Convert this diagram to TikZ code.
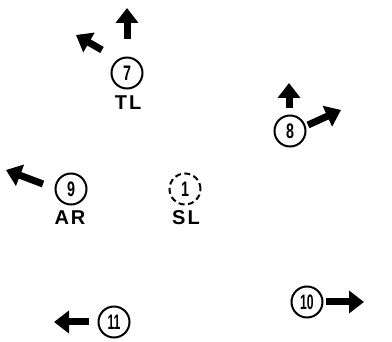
\documentclass[tikz,border=0pt]{standalone}
\usepackage{fontspec}
\setmainfont{Liberation Sans}
\usetikzlibrary{arrows.meta}
\begin{document}
\begin{tikzpicture}[x=1pt,y=-1pt,
  num/.style={circle,draw,line width=2pt,minimum size=31pt,inner sep=0pt,font=\bfseries\fontsize{21}{21}\selectfont},
  dnum/.style={num,dash pattern=on 6pt off 3.5pt},
  lab/.style={font=\bfseries\fontsize{20}{20}\selectfont},
  arr/.style={line width=7pt,-{Triangle[length=15pt,width=22pt]}}]
\useasboundingbox (0,0) rectangle (392,342);
\node[num] (n7) at (127,73) {\scalebox{0.68}[1]{7}};
\node[lab] (tl) at (128,103) {T\kern2ptL};
\node[num] (n8) at (290,131) {\scalebox{0.68}[1]{8}};
\node[num] (n9) at (71,189) {\scalebox{0.68}[1]{9}};
\node[lab] (ar) at (70,218) {A\kern2ptR};
\node[dnum] (n1) at (185,189) {\scalebox{0.68}[1]{1}};
\node[lab] (sl) at (186,218) {S\kern2ptL};
\node[num] (n11) at (114,322) {\scalebox{0.58}[1]{11}};
\node[num] (n10) at (307,302) {\scalebox{0.58}[1]{10}};
\coordinate (a7u0) at (127,39); \coordinate (a7u1) at (127,8);
\coordinate (a7l0) at (102,50); \coordinate (a7l1) at (76,35);
\coordinate (a8u0) at (289,108); \coordinate (a8u1) at (289,83);
\coordinate (a8r0) at (308,125); \coordinate (a8r1) at (341,110);
\coordinate (a9l0) at (43,184); \coordinate (a9l1) at (6,170);
\coordinate (a11l0) at (89,322); \coordinate (a11l1) at (54,322);
\coordinate (a10r0) at (326,302); \coordinate (a10r1) at (364,302);
\draw[arr] (a7u0) -- (a7u1);
\draw[arr] (a7l0) -- (a7l1);
\draw[arr] (a8u0) -- (a8u1);
\draw[arr] (a8r0) -- (a8r1);
\draw[arr] (a9l0) -- (a9l1);
\draw[arr] (a11l0) -- (a11l1);
\draw[arr] (a10r0) -- (a10r1);
\end{tikzpicture}
\end{document}
